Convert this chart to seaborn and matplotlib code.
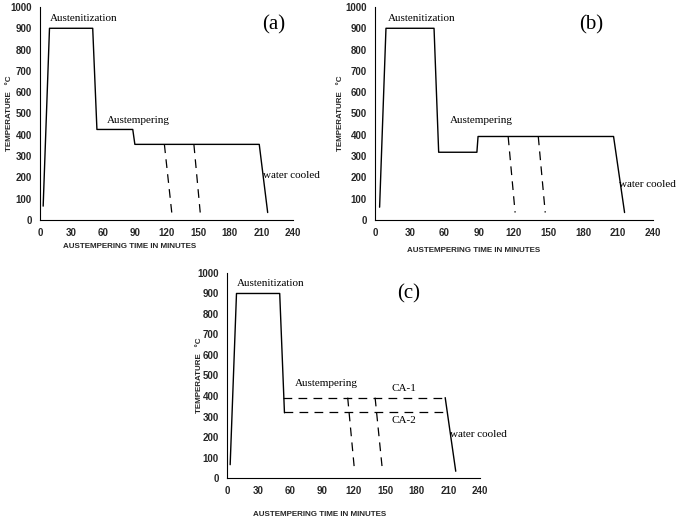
import matplotlib
matplotlib.use("Agg")
import matplotlib.pyplot as plt
import seaborn as sns
import pandas as pd

sns.set_theme(style="white")
plt.rcParams['font.family'] = ['DejaVu Sans']

# ---- data ----
x_ticks = [0, 30, 60, 90, 120, 150, 180, 210, 240]
y_ticks = [0, 100, 200, 300, 400, 500, 600, 700, 800, 900, 1000]

# (a)
a_time = [3, 9, 50, 54, 88, 90, 208, 216]
a_temp = [65, 900, 900, 425, 425, 355, 355, 35]
a_q1_time = [118, 125]
a_q1_temp = [355, 35]
a_q2_time = [146, 152]
a_q2_temp = [355, 35]

# (b)
b_time = [4, 9.5, 51, 55, 88, 89, 206, 215.5]
b_temp = [60, 900, 900, 318, 318, 392, 392, 35]
b_q1_time = [115, 121]
b_q1_temp = [392, 35]
b_q2_time = [141, 147]
b_q2_temp = [392, 35]

# (c)
c_time = [3, 9, 50, 54.5]
c_temp = [65, 900, 900, 318]
c_ca1_time = [53.5, 207]
c_ca1_temp = [392, 392]
c_ca2_time = [54.5, 209]
c_ca2_temp = [320, 320]
c_cool_time = [207, 217]
c_cool_temp = [392, 33]
c_q1_time = [114.5, 121]
c_q1_temp = [392, 35]
c_q2_time = [140.5, 147.5]
c_q2_temp = [392, 35]

fig = plt.figure(figsize=(6.85, 5.17), dpi=100)
ax_a = fig.add_axes([0.0584, 0.5745, 0.3693, 0.412])
ax_b = fig.add_axes([0.5474, 0.5745, 0.4058, 0.412])
ax_c = fig.add_axes([0.3314, 0.0754, 0.3693, 0.3966])

SOLID = dict(color='black', linewidth=1.0)
DASH = dict(color='black', linewidth=0.9, dashes=(7, 5))
LABFONT = ['Liberation Sans', 'DejaVu Sans']


def line(ax, xs, ys, dashed=False):
    df = pd.DataFrame({'t': xs, 'T': ys})
    kw = dict(DASH) if dashed else dict(SOLID)
    d = kw.pop('dashes', None)
    l = sns.lineplot(data=df, x='t', y='T', ax=ax, sort=False, estimator=None, **kw)
    if d is not None:
        l.lines[-1].set_dashes(d)


def style(ax, xlab_x, xlab_y, ylab_x):
    ax.set_xlim(0, 240)
    ax.set_ylim(0, 1000)
    ax.set_xticks(x_ticks)
    ax.set_yticks(y_ticks)
    ax.set_xticklabels([str(v) for v in x_ticks], fontsize=7, fontweight='bold', family=LABFONT)
    ax.set_yticklabels([str(v) for v in y_ticks], fontsize=7, fontweight='bold', family=LABFONT)
    ax.tick_params(length=0, pad=6)
    for s in ['top', 'right']:
        ax.spines[s].set_visible(False)
    for s in ['left', 'bottom']:
        ax.spines[s].set_color('black')
        ax.spines[s].set_linewidth(0.8)
    ax.set_xlabel('AUSTEMPERING TIME IN MINUTES', fontsize=5.8, fontweight='bold', family=LABFONT)
    ax.set_ylabel('TEMPERATURE   °C', fontsize=5.8, fontweight='bold', family=LABFONT)
    ax.xaxis.set_label_coords(xlab_x, xlab_y)
    ax.yaxis.set_label_coords(ylab_x, 0.5)
    ax.grid(False)

SERIF = dict(family='Liberation Serif', fontsize=8, color='black')
PANEL = dict(family='Liberation Serif', fontsize=15, color='black')

# (a)
line(ax_a, a_time, a_temp)
line(ax_a, a_q1_time, a_q1_temp, dashed=True)
line(ax_a, a_q2_time, a_q2_temp, dashed=True)
style(ax_a, 0.355, -0.11, -0.105)
ax_a.text(9.5, 935, 'Austenitization', **SERIF)
ax_a.text(63, 455, 'Austempering', **SERIF)
ax_a.text(212, 195, 'water cooled', **SERIF)
ax_a.text(211, 893, '(a)', **PANEL)

# (b)
line(ax_b, b_time, b_temp)
line(ax_b, b_q1_time, b_q1_temp, dashed=True)
line(ax_b, b_q2_time, b_q2_temp, dashed=True)
style(ax_b, 0.355, -0.125, -0.11)
ax_b.text(11, 935, 'Austenitization', **SERIF)
ax_b.text(64.5, 455, 'Austempering', **SERIF)
ax_b.text(211, 155, 'water cooled', **SERIF)
ax_b.text(176, 893, '(b)', **PANEL)

# (c)
line(ax_c, c_time, c_temp)
line(ax_c, c_ca1_time, c_ca1_temp, dashed=True)
line(ax_c, c_ca2_time, c_ca2_temp, dashed=True)
line(ax_c, c_cool_time, c_cool_temp)
line(ax_c, c_q1_time, c_q1_temp, dashed=True)
line(ax_c, c_q2_time, c_q2_temp, dashed=True)
style(ax_c, 0.365, -0.16, -0.095)
ax_c.text(9.5, 935, 'Austenitization', **SERIF)
ax_c.text(64, 450, 'Austempering', **SERIF)
ax_c.text(156, 425, 'CA-1', **SERIF)
ax_c.text(156, 270, 'CA-2', **SERIF)
ax_c.text(212, 200, 'water cooled', **SERIF)
ax_c.text(161, 878, '(c)', **PANEL)

fig.savefig('out.png', dpi=100)
